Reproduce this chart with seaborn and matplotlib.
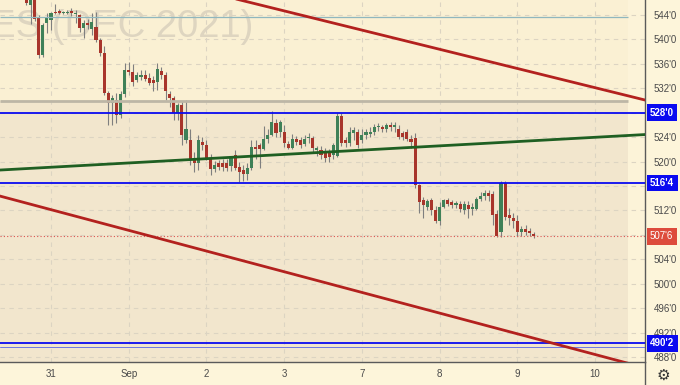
import numpy as np
import pandas as pd
import matplotlib
matplotlib.use("Agg")
import matplotlib.pyplot as plt
import matplotlib.transforms as mtransforms
from matplotlib.lines import Line2D
import seaborn as sns

# hourly candles, first one sits 6 bars before the "31" session start
opens = [546.8, 545.6, 546.8, 543.7, 537.5, 542.7, 543.2, 544.5, 544.7, 544.4, 544.4, 544.7, 544.1, 544.0,
         541.9, 542.7, 541.7, 542.0, 539.9, 537.8, 531.2, 529.6,
         530.1, 527.6, 531.1, 535.0, 534.7, 533.4, 533.9, 534.2, 533.7, 533.4, 533.0, 534.8, 534.2, 531.1,
         530.4, 527.9, 529.3, 523.5, 523.5, 520.3, 519.8, 523.2, 522.7, 520.6, 518.8, 519.8,
         519.8, 519.8, 519.3, 521.1, 519.1, 518.6, 518.0, 519.0, 522.4, 522.7, 522.1, 523.7, 524.4, 526.3,
         524.9, 524.9, 522.9, 522.2, 523.7, 523.5, 522.9, 523.8, 523.9, 521.9, 521.9, 521.6, 521.4, 521.1,
         521.0, 527.4, 523.5, 523.0, 524.7, 524.9, 523.5, 524.4, 524.6, 524.9, 525.7, 525.7, 525.4, 526.0,
         525.7, 525.4, 524.7, 524.9, 523.7, 523.9, 516.1, 513.7, 512.5, 513.7, 512.1, 510.2,
         512.6, 513.7, 513.4, 512.9, 513.0, 512.0, 512.9, 512.3, 512.3, 513.9, 514.3, 514.8, 514.7, 511.5,
         508.4, 516.5, 511.3, 510.8, 510.2, 508.5, 509.0, 508.6, 508.2]
highs = [547.2, 547.5, 547.2, 544.0, 542.7, 544.3, 544.5, 545.8, 545.0, 544.7, 544.8, 545.2, 544.8, 544.2,
         543.2, 543.4, 544.3, 544.5, 540.2, 539.0, 531.5, 530.9,
         531.2, 531.6, 536.2, 536.3, 536.0, 534.7, 535.0, 535.0, 534.5, 534.0, 536.2, 535.5, 534.7, 531.5,
         530.8, 529.6, 530.0, 530.1, 525.3, 521.5, 524.4, 524.0, 523.5, 521.2, 520.1, 520.3,
         520.5, 520.5, 521.0, 521.9, 520.0, 519.5, 519.8, 523.5, 523.5, 523.0, 525.8, 525.3, 528.3, 527.0,
         526.8, 526.0, 523.3, 524.5, 524.2, 524.0, 524.4, 524.7, 524.2, 522.6, 522.5, 522.2, 522.0, 523.0,
         527.9, 527.9, 524.0, 525.7, 525.7, 525.4, 525.4, 525.4, 525.6, 526.2, 526.3, 526.0, 526.3, 526.5,
         526.5, 526.0, 525.0, 525.4, 524.4, 524.7, 516.4, 514.2, 513.9, 514.0, 512.7, 513.4,
         513.9, 514.0, 513.7, 513.6, 513.6, 513.6, 513.6, 513.2, 514.2, 515.0, 515.4, 515.3, 515.2, 512.1,
         516.8, 516.8, 512.4, 511.6, 511.3, 509.5, 509.6, 509.1, 508.5]
lows = [545.6, 542.5, 543.0, 537.0, 537.1, 541.1, 541.5, 544.2, 544.1, 544.1, 544.2, 543.9, 542.7, 541.2,
        540.2, 541.7, 540.7, 539.6, 537.3, 530.9, 526.0, 526.0,
        526.3, 527.2, 530.5, 534.2, 532.4, 533.0, 533.4, 533.2, 532.5, 531.5, 531.7, 533.5, 530.1, 529.0,
        526.8, 526.8, 522.7, 523.0, 519.5, 518.3, 518.6, 521.9, 520.3, 517.8, 518.3, 518.6,
        518.5, 518.5, 518.5, 518.6, 516.7, 516.8, 517.0, 518.6, 520.5, 519.0, 521.9, 523.0, 524.2, 524.0,
        524.0, 522.4, 522.0, 522.0, 522.7, 522.2, 522.5, 523.0, 521.5, 521.0, 520.5, 520.0, 520.0, 520.5,
        520.8, 522.5, 522.4, 522.5, 523.5, 522.2, 523.0, 523.7, 524.0, 524.4, 525.0, 524.9, 524.9, 525.0,
        524.9, 523.7, 523.5, 523.4, 522.2, 515.7, 511.6, 510.8, 512.1, 511.3, 509.9, 509.6,
        512.4, 512.7, 512.4, 512.4, 511.8, 511.5, 510.8, 511.3, 512.0, 513.5, 513.7, 513.5, 509.6, 507.7,
        507.7, 510.5, 509.6, 509.1, 507.9, 507.9, 508.0, 507.9, 507.5]
closes = [546.0, 546.8, 543.4, 537.5, 542.4, 543.7, 544.3, 544.4, 544.3, 544.4, 544.5, 544.3, 544.4, 541.9,
          542.7, 542.4, 542.9, 539.9, 537.8, 531.2, 529.6, 530.4,
          527.6, 531.1, 535.0, 534.7, 533.0, 534.2, 534.2, 533.5, 532.9, 532.9, 535.2, 534.2, 531.5, 530.4,
          527.9, 529.3, 524.4, 525.3, 520.3, 519.8, 523.5, 522.7, 520.6, 518.8, 519.5, 519.1,
          519.1, 519.0, 520.6, 519.0, 518.3, 518.0, 519.0, 522.4, 522.1, 522.1, 523.7, 524.4, 526.5, 524.7,
          526.5, 523.0, 522.2, 523.7, 523.2, 522.7, 523.7, 523.9, 522.2, 522.2, 521.1, 520.6, 520.8, 522.7,
          527.4, 523.0, 523.0, 524.9, 525.1, 522.7, 524.4, 524.9, 524.9, 525.7, 525.8, 525.4, 526.0, 525.7,
          526.0, 524.0, 524.0, 523.7, 523.2, 516.1, 513.4, 512.9, 513.5, 512.1, 510.2, 512.6,
          513.7, 513.0, 512.9, 513.2, 512.3, 513.0, 512.3, 512.6, 513.9, 514.3, 514.8, 514.4, 511.3, 507.8,
          516.5, 511.0, 510.8, 510.2, 508.5, 509.0, 508.5, 508.3, 507.75]
first_bar = -6

day_labels = ["31", "Sep", "2", "3", "7", "8", "9", "10"]
bars_per_day = 19

# drawn levels / trend lines (bar index, price)
blue_levels = [528.0, 516.5, 490.25]
gray_level = 530.0
teal_level = 543.7
last_price = 507.75
green_line = ([-13, 146], [518.60, 524.46])
red_top = ([40, 146], [547.49, 529.95])
red_bottom = ([-13, 146], [514.45, 486.10])

df = pd.DataFrame({"open": opens, "high": highs, "low": lows, "close": closes})
df["bar"] = np.arange(len(df)) + first_bar
df["up"] = df["close"] >= df["open"]


def fmt_price(p):
    whole = int(np.floor(p + 1e-9))
    eighth = int(round((p - whole) * 8))
    return f"{whole}'{eighth}"


sns.set_style("white", {"axes.facecolor": "#F2E6CD", "figure.facecolor": "#FDF5DA"})
plt.rcParams["font.family"] = ["Liberation Sans", "DejaVu Sans"]

fig = plt.figure(figsize=(6.8, 3.85), dpi=100)
ax = fig.add_axes([0, 23 / 385, 645 / 680, 362 / 385])

x_left, x_right = -12.47, 145.2
strip_start = 141.1
y_bottom, y_top = 487.19, 546.46

# background zones
ax.axhspan(gray_level, y_top, xmax=(strip_start - x_left) / (x_right - x_left),
           color="#FAF0D3", lw=0, zorder=0.2)
ax.axvspan(strip_start, x_right, color="#FCF3D8", lw=0, zorder=0.2)

# watermark (symbol name, mostly cut off on the left)
ax.text(253 / 645, 1 - 27 / 362, "CORN FUTURES (DEC 2021)", transform=ax.transAxes,
        ha="right", va="center", fontsize=27.5, color="#DED5C0", zorder=0.4)

# candles
wick_col = "#7f7f7f"
ax.vlines(df["bar"], df["low"], df["high"], color=wick_col, lw=0.8, zorder=2.5)
body_bottom = df[["open", "close"]].min(axis=1)
body_h = (df["close"] - df["open"]).abs().clip(lower=0.15)
colors = np.where(df["up"], "#3F8158", "#A8352B")
ax.bar(df["bar"], body_h, bottom=body_bottom, width=0.74, color=colors, lw=0, zorder=3)

# horizontal levels
ax.hlines(gray_level, x_left, strip_start, color="#BDB6A6", lw=2.0, zorder=3.5)
ax.hlines(teal_level, x_left, strip_start, color="#8FB7BE", lw=0.9, zorder=3.5)
for lv in blue_levels:
    ax.axhline(lv, color="#0A0AF0", lw=1.3, zorder=4)
ax.axhline(489.6, color="#4A5BE8", lw=0.7, alpha=0.8, zorder=4)
ax.axhline(last_price, color="#D9534F", lw=0.8, ls=(0, (1, 2)), zorder=4)

# trend lines
sns.lineplot(x=green_line[0], y=green_line[1], ax=ax, color="#1F5F22", lw=2.0, zorder=4)
sns.lineplot(x=red_top[0], y=red_top[1], ax=ax, color="#B3211E", lw=2.0, zorder=4)
sns.lineplot(x=red_bottom[0], y=red_bottom[1], ax=ax, color="#B3211E", lw=2.0, zorder=4)

ax.set_xlim(x_left, x_right)
ax.set_ylim(y_bottom, y_top)

# axes & ticks
day_pos = np.arange(len(day_labels)) * bars_per_day
ax.set_xticks(day_pos)
ax.set_xticklabels(day_labels)
price_ticks = np.arange(488, 545, 4)
ax.yaxis.tick_right()
ax.set_yticks(price_ticks)
# ticks hidden under the level boxes get no label
hidden = [528, 516, 508]
ax.set_yticklabels(["" if p in hidden else fmt_price(p) for p in price_ticks])
ax.tick_params(axis="both", length=0, labelsize=7, colors="#4A4A4A")
ax.tick_params(axis="x", pad=5)
ax.tick_params(axis="y", pad=6)
ax.set_xlabel("")
ax.set_ylabel("")
ax.grid(True, color="#DCD4C2", lw=0.8, ls=(0, (4, 4)), zorder=0.3)
ax.set_axisbelow(True)
for s in ["left", "top"]:
    ax.spines[s].set_visible(False)
for s in ["right", "bottom"]:
    ax.spines[s].set_visible(True)
    ax.spines[s].set_color("#5A5A5A")
    ax.spines[s].set_linewidth(1.0)

# price label boxes on the right scale
trans = mtransforms.blended_transform_factory(ax.transAxes, ax.transData)
for lv in blue_levels:
    ax.text(1 + 5 / 645, lv, fmt_price(lv), transform=trans, ha="left", va="center",
            fontsize=7, fontweight="bold", color="white", clip_on=False, zorder=6,
            bbox=dict(boxstyle="square,pad=0.35", fc="#0A0AF0", ec="none"))
ax.text(1 + 5 / 645, last_price, fmt_price(last_price), transform=trans, ha="left", va="center",
        fontsize=7, color="white", clip_on=False, zorder=6,
        bbox=dict(boxstyle="square,pad=0.35", fc="#DD4B3C", ec="none"))

fig.add_artist(Line2D([645 / 680, 645 / 680], [0, 23 / 385], color="#5A5A5A", lw=1.0))
fig.text(663 / 680, 10 / 385, "\u2699", ha="center", va="center", fontsize=11,
         color="#333333", family=["DejaVu Sans"])

fig.savefig("out.png", dpi=100)
